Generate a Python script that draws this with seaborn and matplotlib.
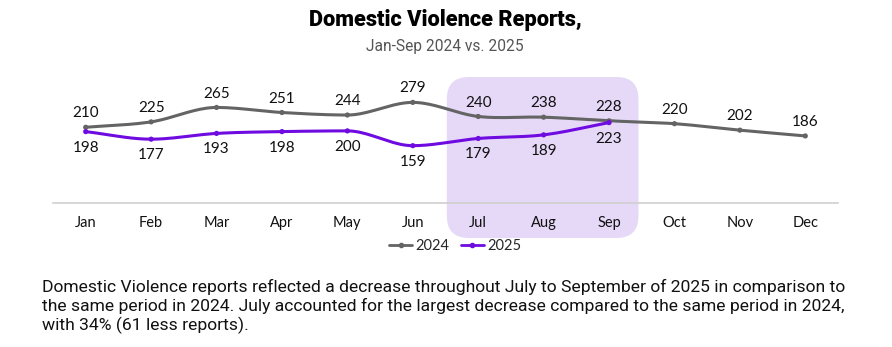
import numpy as np
import pandas as pd
import matplotlib
matplotlib.use("Agg")
import matplotlib.pyplot as plt
import seaborn as sns
from matplotlib.patches import FancyBboxPatch
from matplotlib.lines import Line2D

months = ["Jan", "Feb", "Mar", "Apr", "May", "Jun", "Jul", "Aug", "Sep", "Oct", "Nov", "Dec"]
reports_2024 = [210, 225, 265, 251, 244, 279, 240, 238, 228, 220, 202, 186]
reports_2025 = [198, 177, 193, 198, 200, 159, 179, 189, 223]
highlight_months = ["Jul", "Sep"]

sns.set_theme(style="white")
plt.rcParams["font.family"] = ["Lato", "DejaVu Sans"]

C24 = "#646464"
C25 = "#6f0be0"

W, H = 892, 347
fig = plt.figure(figsize=(W / 100, H / 100), dpi=100)
ax = fig.add_axes([53 / W, 1 - 203 / H, (838 - 53) / W, (203 - 75) / H])
ax.set_zorder(2)


def smooth(xs, ys, n=20):
    # monotone-ish cubic smoothing of the drawn line (shape only)
    xs = np.asarray(xs, float)
    ys = np.asarray(ys, float)
    outx, outy = [], []
    m = len(xs)
    slopes = np.zeros(m)
    for i in range(m):
        if i == 0:
            slopes[i] = (ys[1] - ys[0]) / (xs[1] - xs[0])
        elif i == m - 1:
            slopes[i] = (ys[-1] - ys[-2]) / (xs[-1] - xs[-2])
        else:
            d1 = ys[i] - ys[i - 1]
            d2 = ys[i + 1] - ys[i]
            slopes[i] = 0.0 if d1 * d2 <= 0 else (ys[i + 1] - ys[i - 1]) / (xs[i + 1] - xs[i - 1])
    for i in range(m - 1):
        t = np.linspace(0, 1, n, endpoint=False)
        h = xs[i + 1] - xs[i]
        h00 = 2 * t**3 - 3 * t**2 + 1
        h10 = t**3 - 2 * t**2 + t
        h01 = -2 * t**3 + 3 * t**2
        h11 = t**3 - t**2
        outx.extend(xs[i] + t * h)
        outy.extend(h00 * ys[i] + h10 * h * slopes[i] + h01 * ys[i + 1] + h11 * h * slopes[i + 1])
    outx.append(xs[-1])
    outy.append(ys[-1])
    return np.array(outx), np.array(outy)


x24 = np.arange(len(reports_2024))
x25 = np.arange(len(reports_2025))

ax.set_xlim(-0.5, len(months) - 0.5)
ax.set_ylim(0, 355)

sx, sy = smooth(x24, reports_2024)
sns.lineplot(x=sx, y=sy, ax=ax, color=C24, lw=2.2, zorder=3)
sns.scatterplot(x=x24, y=reports_2024, ax=ax, color=C24, s=14, edgecolor="none", zorder=4)
sx, sy = smooth(x25, reports_2025)
sns.lineplot(x=sx, y=sy, ax=ax, color=C25, lw=2.2, zorder=5)
sns.scatterplot(x=x25, y=reports_2025, ax=ax, color=C25, s=14, edgecolor="none", zorder=6)

for i, v in enumerate(reports_2024):
    ax.annotate(str(v), (i, v), xytext=(0, 5), textcoords="offset points",
                ha="center", va="bottom", fontsize=11, color="#111111", zorder=7)
for i, v in enumerate(reports_2025):
    ax.annotate(str(v), (i, v), xytext=(0, -6.5), textcoords="offset points",
                ha="center", va="top", fontsize=11, color="#111111", zorder=7)

ax.set_xticks(x24)
ax.set_xticklabels(months, fontsize=10.5, color="#111111")
ax.tick_params(axis="x", length=0, pad=9)
ax.set_yticks([])
for s in ["top", "left", "right"]:
    ax.spines[s].set_visible(False)
ax.spines["bottom"].set_color("#d0d0d0")
ax.spines["bottom"].set_linewidth(1.2)
ax.set_xlabel("")
ax.set_ylabel("")
ax.set_facecolor("none")

# highlight box (Jul–Sep), in pixel coordinates, x derived from month positions
i0 = months.index(highlight_months[0])
i1 = months.index(highlight_months[1])
fig.canvas.draw()
px0 = ax.transData.transform((i0 - 0.48, 0))[0]
px1 = ax.transData.transform((i1 + 0.45, 0))[0]
y_bot, y_top = H - 238, H - 77
box = FancyBboxPatch((px0, y_bot), px1 - px0, y_top - y_bot,
                     boxstyle="round,pad=0,rounding_size=22",
                     facecolor="#e6d9f8", edgecolor="none", transform=None, zorder=-1)
fig.patches.append(box)

handles = [Line2D([0], [0], color=C24, lw=2, marker="o", ms=3),
           Line2D([0], [0], color=C25, lw=2, marker="o", ms=3)]
fig.legend(handles, ["2024", "2025"], loc="center", bbox_to_anchor=(455 / W, 1 - 246 / H),
           ncol=2, frameon=False, fontsize=10.5, handlelength=1.6, handletextpad=0.2,
           columnspacing=0.8)

fig.text(445 / W, 1 - 20 / H, "Domestic Violence Reports,", ha="center", va="center",
         fontsize=15.7, fontweight="black", family=["Roboto", "DejaVu Sans"], color="#000000")
fig.text(445 / W, 1 - 46 / H, "Jan-Sep 2024 vs. 2025", ha="center", va="center",
         fontsize=11.2, family=["Roboto", "DejaVu Sans"], color="#555555")

para = ("Domestic Violence reports reflected a decrease throughout July to September of 2025 in comparison to\n"
        "the same period in 2024. July accounted for the largest decrease compared to the same period in 2024,\n"
        "with 34% (61 less reports).")
fig.text(42 / W, 1 - 279 / H, para, ha="left", va="top", fontsize=12.6,
         family=["Roboto", "DejaVu Sans"], color="#111111",
         linespacing=1.22)

fig.savefig("out.png", dpi=100, facecolor="white")
